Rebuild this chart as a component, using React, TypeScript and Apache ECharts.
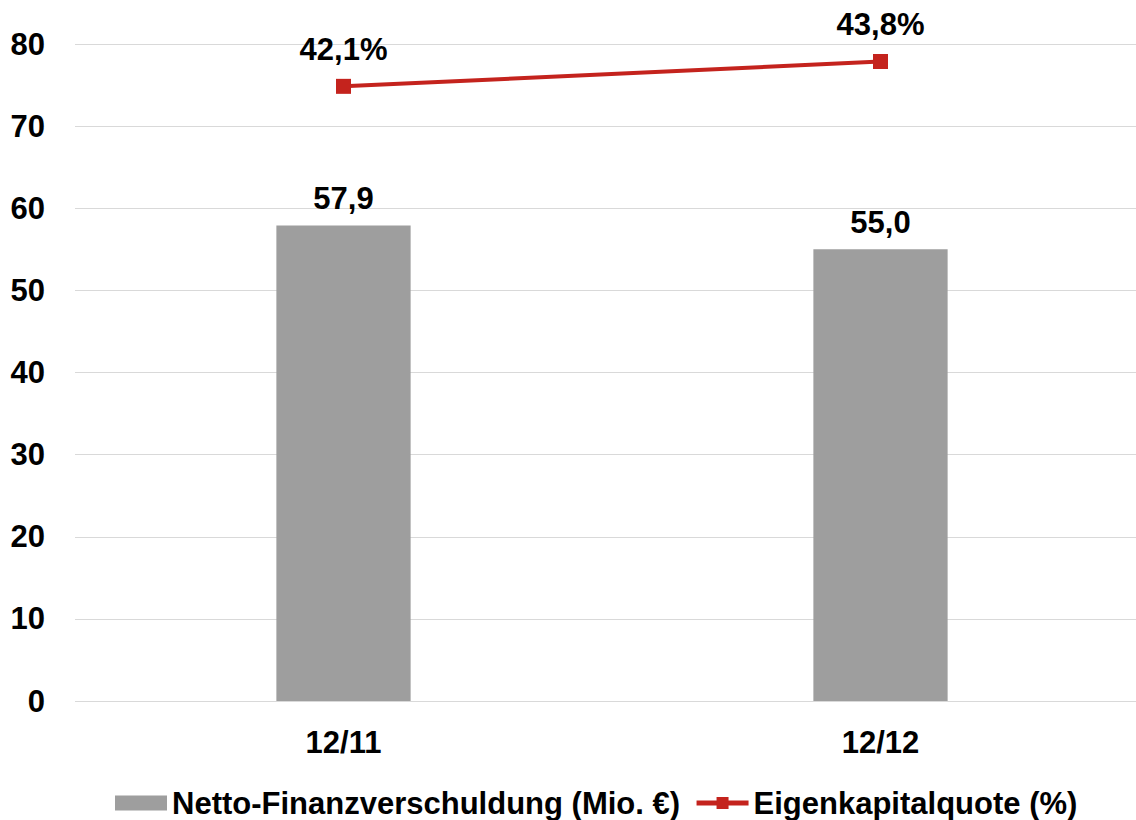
import React, { useEffect, useRef } from "react";
import * as echarts from "echarts";

const categories = ["12/11", "12/12"];
const netDebt = [57.9, 55.0];
const equityRatio = [42.1, 43.8];
const yTicks = [0, 10, 20, 30, 40, 50, 60, 70, 80];

const FONT = "Liberation Sans, Arial, Helvetica, sans-serif";
const FS = 31;
const fmt = (v: number, d = 1) => v.toFixed(d).replace(".", ",");

export default function App() {
  const ref = useRef<HTMLDivElement>(null);
  useEffect(() => {
    if (!ref.current) return;
    const chart = echarts.init(ref.current, undefined, { renderer: "svg" });
    chart.setOption({
      animation: false,
      backgroundColor: "#ffffff",
      grid: { left: 75, right: 0, top: 44, bottom: 119, containLabel: false },
      legend: {
        left: 115,
        top: 787,
        padding: 0,
        itemGap: 14,
        itemWidth: 52,
        itemHeight: 15,
        textStyle: { fontFamily: FONT, fontWeight: "bold", fontSize: FS, lineHeight: 32, color: "#000" },
        data: [
          { name: "Netto-Finanzverschuldung (Mio. €)", icon: "rect" },
          { name: "Eigenkapitalquote (%)", lineStyle: { width: 5, color: "#c4231d" } },
        ],
      },
      xAxis: {
        type: "category",
        data: categories,
        axisLine: { show: false },
        axisTick: { show: false },
        axisLabel: { margin: 26, fontFamily: FONT, fontWeight: "bold", fontSize: FS, color: "#000" },
      },
      yAxis: [
        {
          type: "value",
          min: 0,
          max: yTicks[yTicks.length - 1],
          interval: 10,
          axisLine: { show: false },
          axisTick: { show: false },
          splitLine: { lineStyle: { color: "#d9d9d9", width: 1 } },
          axisLabel: { margin: 30, fontFamily: FONT, fontWeight: "bold", fontSize: FS, color: "#000" },
        },
        { type: "value", min: 0, max: 45, show: false, splitLine: { show: false } },
      ],
      series: [
        {
          name: "Netto-Finanzverschuldung (Mio. €)",
          type: "bar",
          data: netDebt,
          barWidth: "25%",
          itemStyle: { color: "#9e9e9e" },
          label: {
            show: true,
            position: "top",
            distance: 11,
            formatter: (p: any) => fmt(p.value),
            fontFamily: FONT,
            fontWeight: "bold",
            fontSize: FS,
            color: "#000",
          },
        },
        {
          name: "Eigenkapitalquote (%)",
          type: "line",
          yAxisIndex: 1,
          data: equityRatio,
          symbol: "rect",
          symbolSize: 15,
          lineStyle: { color: "#c4231d", width: 4 },
          itemStyle: { color: "#c4231d" },
          label: {
            show: true,
            position: "top",
            distance: 14,
            formatter: (p: any) => fmt(p.value) + "%",
            fontFamily: FONT,
            fontWeight: "bold",
            fontSize: FS,
            color: "#000",
          },
        },
      ],
    });
    return () => chart.dispose();
  }, []);
  return (
    <div style={{ position: "absolute", left: 0, top: 0, width: 1136, height: 820, overflow: "hidden" }}>
      <div ref={ref} style={{ width: 1149, height: 820 }} />
    </div>
  );
}
